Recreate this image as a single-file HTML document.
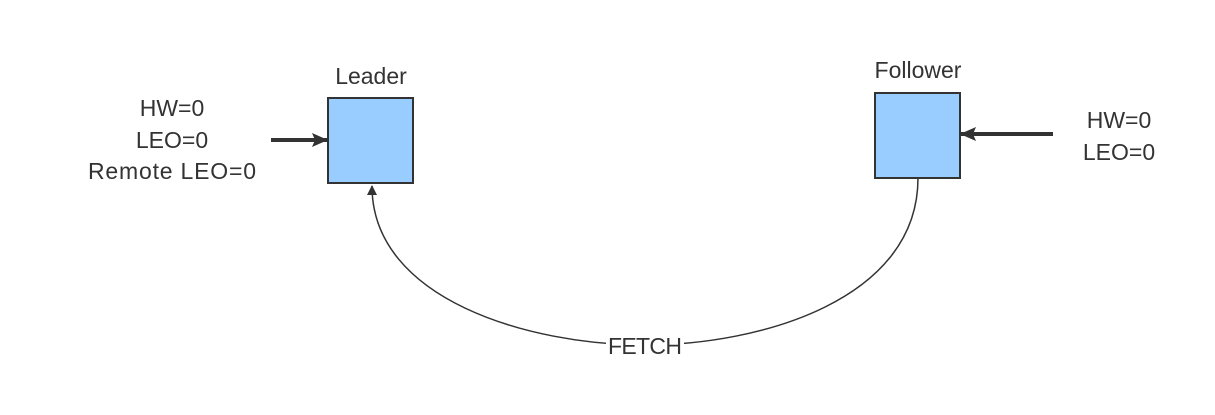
<!DOCTYPE html>
<html><head><meta charset="utf-8"><style>
body{margin:0;background:#fff;}
svg{display:block;}
text{font-family:"Liberation Sans","Noto Sans CJK SC",sans-serif;fill:#333;font-size:23px;text-anchor:middle;}
</style></head><body>
<svg width="1215" height="415" viewBox="0 0 1215 415">
<defs>
<marker id="ah" markerWidth="10" markerHeight="10" refX="9" refY="5" orient="auto" markerUnits="userSpaceOnUse"><path d="M0,0 L10,5 L0,10 z" fill="#333"/></marker>
<marker id="ab" markerWidth="16" markerHeight="14" refX="15" refY="7" orient="auto" markerUnits="userSpaceOnUse"><path d="M0,0 L16,7 L0,14 L3,7 z" fill="#333"/></marker>
</defs>
<path d="M918,178 C918,300 760,345 645,345 C530,345 372,300 372,186" fill="none" stroke="#333" stroke-width="1.5" marker-end="url(#ah)"/>
<rect x="606" y="333" width="78" height="26" fill="#fff"/>
<text x="645" y="354" textLength="74">FETCH</text>
<rect x="328" y="98" width="85" height="85" fill="#99ccff" stroke="#333" stroke-width="2"/>
<text x="371" y="84">Leader</text>
<rect x="875" y="93" width="85" height="85" fill="#99ccff" stroke="#333" stroke-width="2"/>
<text x="918" y="78">Follower</text>
<line x1="271" y1="140" x2="327" y2="140" stroke="#333" stroke-width="4" marker-end="url(#ab)"/>
<line x1="1053" y1="134" x2="961" y2="134" stroke="#333" stroke-width="4" marker-end="url(#ab)"/>
<g>
<text x="172" y="116">HW=0</text>
<text x="172" y="148">LEO=0</text>
<text x="172" y="179" textLength="168">Remote LEO=0</text>
</g>
<g>
<text x="1119" y="128">HW=0</text>
<text x="1119" y="160">LEO=0</text>
</g>
</svg>
</body></html>
